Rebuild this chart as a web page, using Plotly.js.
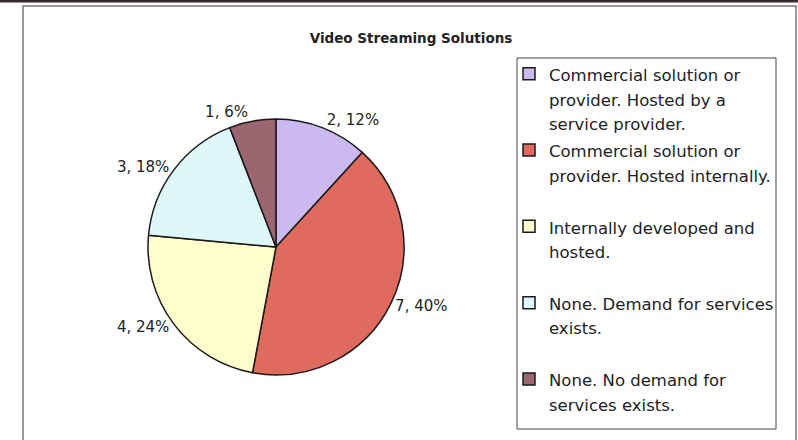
<!DOCTYPE html>
<html><head><meta charset="utf-8">
<script src="https://cdn.plot.ly/plotly-3.0.1.min.js"></script>
<style>html,body{margin:0;padding:0;background:#fff}</style>
</head><body>
<div id="chart" style="width:798px;height:440px"></div>
<script>
// ---- data ----
const categoryLines = [
  ['Commercial solution or', 'provider. Hosted by a', 'service provider.'],
  ['Commercial solution or', 'provider. Hosted internally.'],
  ['Internally developed and', 'hosted.'],
  ['None. Demand for services', 'exists.'],
  ['None. No demand for', 'services exists.']
];
const counts = [2, 7, 4, 3, 1];
const percentLabels = ['12%', '40%', '24%', '18%', '6%'];
const sliceColors = ['#CBBAF0', '#DE6B5D', '#FFFDCC', '#DEF7FA', '#9A6670'];
const chartTitle = 'Video Streaming Solutions';

// ---- build ----
const FONT = 'DejaVu Sans, Verdana, sans-serif';
const legendTextSize = 16.5;
const labels = categoryLines.map((lines, i) => {
  const padded = lines.slice();
  // pad entries (except the last) to three lines so entries are evenly spaced
  if (i < categoryLines.length - 1) while (padded.length < 3) padded.push('\u00a0');
  return padded.map(s => '<span style="font-size:' + legendTextSize + 'px">' + s + '</span>').join('<br>');
});
const sliceText = counts.map((c, i) => c + ', ' + percentLabels[i]);

const W = 798, H = 440;
const cx = 276, cy = 247, r = 128;

const trace = {
  type: 'pie',
  labels: labels,
  values: counts,
  text: sliceText,
  textinfo: 'text',
  textposition: 'outside',
  outsidetextfont: {family: FONT, size: 15, color: '#222'},
  sort: false,
  direction: 'clockwise',
  rotation: 0,
  marker: {colors: sliceColors, line: {color: '#1a1a1a', width: 1.5}},
  domain: {x: [(cx - r) / W, (cx + r) / W], y: [(H - cy - r) / H, (H - cy + r) / H]},
  hoverinfo: 'none',
  automargin: false
};

const layout = {
  width: W, height: H,
  margin: {l: 0, r: 0, t: 0, b: 0, autoexpand: false},
  paper_bgcolor: '#ffffff',
  font: {family: FONT, color: '#222'},
  title: {
    text: '<b>' + chartTitle + '</b>',
    font: {family: FONT, size: 13.5, color: '#222'},
    x: 411 / W, xanchor: 'center',
    y: 1 - 38 / H, yanchor: 'middle'
  },
  showlegend: true,
  legend: {
    x: 509 / W, xanchor: 'left',
    y: 1 - 55 / H, yanchor: 'top',
    bgcolor: 'rgba(0,0,0,0)',
    borderwidth: 0,
    valign: 'top',
    font: {family: FONT, size: 18.8, color: '#222'}
  },
  shapes: [
    // outer chart frame
    {type: 'rect', xref: 'paper', yref: 'paper', x0: 23 / W, x1: 796 / W, y0: -0.05, y1: 1 - 6 / H,
     line: {color: '#777', width: 1.5}, fillcolor: 'rgba(0,0,0,0)', layer: 'below'},
    // dark scanned top edge
    {type: 'line', xref: 'paper', yref: 'paper', x0: 0, x1: 1, y0: 1 - 1 / H, y1: 1 - 1 / H,
     line: {color: '#3a2a2c', width: 3}},
    // legend frame
    {type: 'rect', xref: 'paper', yref: 'paper', x0: 517 / W, x1: 776 / W, y0: 1 - 429 / H, y1: 1 - 58 / H,
     line: {color: '#444', width: 1}, fillcolor: 'rgba(0,0,0,0)', layer: 'below'}
  ]
};

Plotly.newPlot('chart', [trace], layout, {staticPlot: true, displayModeBar: false});
</script>
</body></html>
